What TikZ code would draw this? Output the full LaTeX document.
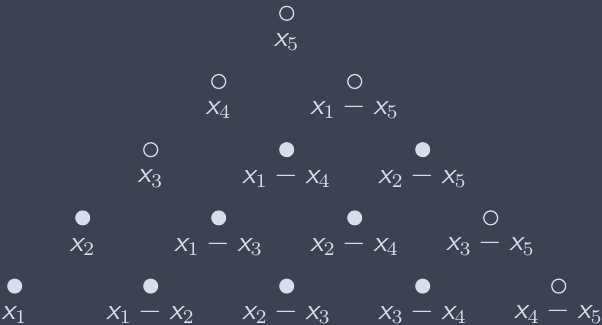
\documentclass[tikz,border=0pt]{standalone}
\usepackage{amsmath}
\usepackage{tikz}
\usetikzlibrary{positioning}
\definecolor{nordbg}{HTML}{3B4252}
\definecolor{nordfg}{HTML}{D8DEE9}
\newcommand{\xs}[1]{\textsf{\itshape x}_{#1}}

\begin{document}
\begin{tikzpicture}[x=0.36pt, y=-0.36pt, font=\fontsize{10.5}{12}\selectfont,
		dot/.style={circle, fill=nordfg, inner sep=0pt, minimum size=5.4pt},
		hole/.style={circle, draw=nordfg, line width=0.45pt, inner sep=0pt, minimum size=5pt},
		lab/.style={text=nordfg, inner sep=0pt}]
		\fill[nordbg] (0,0) rectangle (602,325);
		\useasboundingbox (0,0) rectangle (602,325);
		% top row
		\node[hole] (a1) at (286.7,13.3) {};
		\node[lab, below=9.1pt of a1, anchor=base] (la1) {$\xs{5}$};
		% second row
		\node[hole] (b1) at (218.7,81.5) {};
		\node[hole] (b2) at (354.7,81.5) {};
		\node[lab, below=9.1pt of b1, anchor=base] (lb1) {$\xs{4}$};
		\node[lab, below=9.1pt of b2, anchor=base] (lb2) {$\xs{1} - \xs{5}$};
		% third row
		\node[hole] (c1) at (150.7,149.7) {};
		\node[dot] (c2) at (286.7,149.7) {};
		\node[dot] (c3) at (422.7,149.7) {};
		\node[lab, below=9.1pt of c1, anchor=base] (lc1) {$\xs{3}$};
		\node[lab, below=9.1pt of c2, anchor=base] (lc2) {$\xs{1} - \xs{4}$};
		\node[lab, below=9.1pt of c3, anchor=base] (lc3) {$\xs{2} - \xs{5}$};
		% fourth row
		\node[dot] (d1) at (82.7,217.9) {};
		\node[dot] (d2) at (218.7,217.9) {};
		\node[dot] (d3) at (354.7,217.9) {};
		\node[hole] (d4) at (490.7,217.9) {};
		\node[lab, below=9.1pt of d1, anchor=base] (ld1) {$\xs{2}$};
		\node[lab, below=9.1pt of d2, anchor=base] (ld2) {$\xs{1} - \xs{3}$};
		\node[lab, below=9.1pt of d3, anchor=base] (ld3) {$\xs{2} - \xs{4}$};
		\node[lab, below=9.1pt of d4, anchor=base] (ld4) {$\xs{3} - \xs{5}$};
		% bottom row
		\node[dot] (e1) at (14.7,286.1) {};
		\node[dot] (e2) at (150.7,286.1) {};
		\node[dot] (e3) at (286.7,286.1) {};
		\node[dot] (e4) at (422.7,286.1) {};
		\node[hole] (e5) at (558.7,286.1) {};
		\node[lab, below=9.1pt of e1, anchor=base] (le1) {$\xs{1}$};
		\node[lab, below=9.1pt of e2, anchor=base] (le2) {$\xs{1} - \xs{2}$};
		\node[lab, below=9.1pt of e3, anchor=base] (le3) {$\xs{2} - \xs{3}$};
		\node[lab, below=9.1pt of e4, anchor=base] (le4) {$\xs{3} - \xs{4}$};
		\node[lab, below=9.1pt of e5, anchor=base] (le5) {$\xs{4} - \xs{5}$};
	\end{tikzpicture}
\end{document}
